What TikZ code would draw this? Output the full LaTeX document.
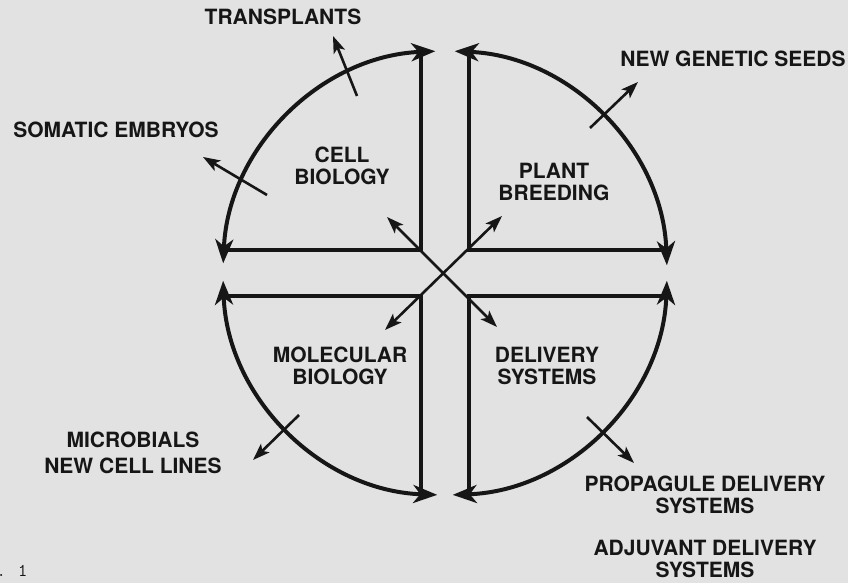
\documentclass[tikz,border=0pt]{standalone}
\usepackage{fontspec}
\setmainfont{TeX Gyre Heros}
\usetikzlibrary{arrows.meta,calc}
\definecolor{scan}{RGB}{226,226,226}
\definecolor{ink}{RGB}{22,22,22}
\tikzset{
  rim/.style={draw=ink, line width=4pt,
    {Stealth[length=24pt,width=18pt,inset=7pt]}-{Stealth[length=24pt,width=18pt,inset=7pt]}},
  wall/.style={draw=ink, line width=3.5pt},
  spoke/.style={draw=ink, line width=2.6pt,
    {Stealth[length=17pt,width=12pt,inset=4pt]}-{Stealth[length=17pt,width=12pt,inset=4pt]}},
  outlet/.style={draw=ink, line width=2.6pt, -{Stealth[length=17pt,width=12pt,inset=4pt]}},
  txt/.style={font=\bfseries\fontsize{21}{22}\selectfont, align=center, text=ink, inner sep=0pt}
}
\begin{document}
\begin{tikzpicture}[x=1pt,y=1pt]
                \fill[scan] (0,0) rectangle (848,583);
                \useasboundingbox (0,0) rectangle (848,583);
                \coordinate (c) at (445,310);

                % the four quadrant rims
                \draw[rim] ($(c)+(177.5:222pt)$) arc[start angle=177.5,end angle=92.5,radius=222pt];
                \draw[rim] ($(c)+(87.5:222pt)$) arc[start angle=87.5,end angle=2,radius=222pt];
                \draw[rim] ($(c)+(182:222pt)$) arc[start angle=182,end angle=268,radius=222pt];
                \draw[rim] ($(c)+(358:222pt)$) arc[start angle=358,end angle=272,radius=222pt];

                % corners and rim ends
                \coordinate (ulc) at (421,333);
                \coordinate (urc) at (469,333);
                \coordinate (llc) at (421,287);
                \coordinate (lrc) at (469,287);
                \coordinate (ult) at (421,531);
                \coordinate (ull) at (224,333);
                \coordinate (urt) at (469,531);
                \coordinate (urr) at (666,333);
                \coordinate (lll) at (224,287);
                \coordinate (llb) at (421,89);
                \coordinate (lrr) at (666,287);
                \coordinate (lrb) at (469,89);

                \draw[wall] (ult) -- (ulc) -- (ull);
                \draw[wall] (urt) -- (urc) -- (urr);
                \draw[wall] (lll) -- (llc) -- (llb);
                \draw[wall] (lrr) -- (lrc) -- (lrb);

                % crossing arrows in the middle
                \coordinate (sul) at (387,366);
                \coordinate (slr) at (497,256);
                \coordinate (sur) at (502,367);
                \coordinate (sll) at (385,253);
                \draw[spoke] (sul) -- (slr);
                \draw[spoke] (sur) -- (sll);

                % quadrant titles
                \draw node[txt] (cell) at (342,417) {CELL\\BIOLOGY};
                \draw node[txt] (breeding) at (554,401) {PLANT\\BREEDING};
                \draw node[txt] (molecular) at (340,217) {MOLECULAR\\BIOLOGY};
                \draw node[txt] (delivery) at (547,217) {DELIVERY\\SYSTEMS};

                % outputs
                \draw node[txt] (transplants) at (283,566) {TRANSPLANTS};
                \draw node[txt] (somatic) at (116,453) {SOMATIC EMBRYOS};
                \draw node[txt] (seeds) at (733,524) {NEW GENETIC SEEDS};
                \draw node[txt] (microbials) at (133,143) {MICROBIALS};
                \draw node[txt] (celllines) at (133,117) {NEW CELL LINES};
                \draw node[txt] (propagule) at (705,88) {PROPAGULE DELIVERY\\SYSTEMS};
                \draw node[txt] (adjuvant) at (705,24) {ADJUVANT DELIVERY\\SYSTEMS};
                \draw node[font=\ttfamily\fontsize{18}{20}\selectfont, text=ink, anchor=base east] (fig) at (31,6) {f. 1};

                \coordinate (t1) at (357,487); \coordinate (h1) at (333,547);
                \coordinate (t2) at (267,388); \coordinate (h2) at (203,426);
                \coordinate (t3) at (590,455); \coordinate (h3) at (638,501);
                \coordinate (t4) at (299,168); \coordinate (h4) at (253,123);
                \coordinate (t5) at (587,166); \coordinate (h5) at (634,120);
                \draw[outlet] (t1) -- (h1);
                \draw[outlet] (t2) -- (h2);
                \draw[outlet] (t3) -- (h3);
                \draw[outlet] (t4) -- (h4);
                \draw[outlet] (t5) -- (h5);
            \end{tikzpicture}
\end{document}
